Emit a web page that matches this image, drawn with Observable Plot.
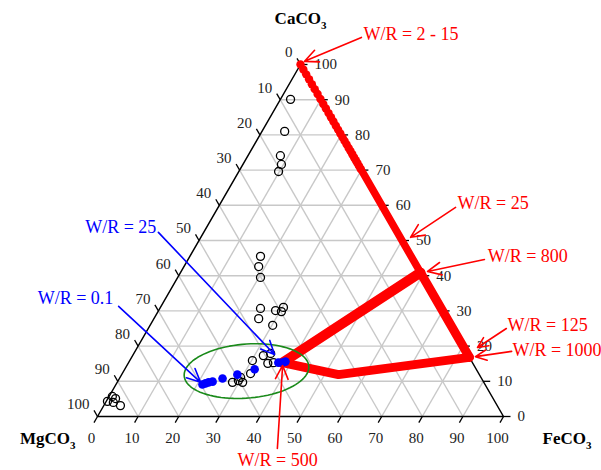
<!DOCTYPE html>
<html><head><meta charset="utf-8">
<script src="https://cdn.jsdelivr.net/npm/d3@7"></script>
<script src="https://cdn.jsdelivr.net/npm/@observablehq/plot@0.6"></script>
<style>body{margin:0;background:#fff}</style>
</head><body><div id="chart"></div>
<script>
// Ternary compositions (%): CaCO3 and FeCO3; MgCO3 = 100 - Ca - Fe
const sampleCa = [90.1, 81.0, 74.1, 71.6, 69.6, 45.5, 42.6, 39.5, 30.7, 27.8, 30.1, 29.8, 31.0, 25.9,
                  15.9, 17.3, 17.9, 15.1, 15.3, 12.2, 9.7, 10.2, 9.7, 11.1, 4.3, 5.7, 4.0, 3.1, 5.1];
const sampleFe = [2.5, 5.6, 8.0, 9.5, 9.8, 17.4, 18.4, 20.4, 24.8, 25.8, 28.8, 30.4, 30.3, 30.2,
                  30.2, 32.2, 33.7, 34.4, 35.7, 31.6, 28.4, 29.6, 30.9, 29.7, 0.3, 0.8, 1.9, 4.1, 1.9];
// Blue model path (low Fe fluid)
const blueCa = [9.1, 9.4, 9.7, 9.9, 10.8, 11.9, 13.4, 15.3, 15.3, 15.6];
const blueFe = [21.3, 21.9, 22.5, 23.4, 25.4, 28.5, 32.0, 36.9, 37.9, 38.5];
// Red model: dots on the MgCO3 = 0 edge (W/R = 2 - 15)
const redDotCa = [100, 98.6, 97.2, 95.8, 94.4, 93.0, 91.6, 90.2, 88.8, 87.5, 86.2, 85.0, 83.8, 82.6,
                  81.5, 80.4, 79.3, 78.3, 77.3, 76.3, 75.4, 74.5, 73.6, 72.8, 72.0, 71.2, 70.4];
// Red model paths
const redEdgeUpperCa = [70.4, 41.0], redEdgeUpperFe = [29.6, 59.0];
const redEdgeLowerCa = [41.0, 16.8], redEdgeLowerFe = [59.0, 83.2];
const redMixUpperCa = [15.3, 40.9], redMixUpperFe = [37.9, 59.1];
const redMixLowerCa = [15.3, 11.9, 16.8], redMixLowerFe = [37.9, 53.4, 83.2];
// Axis ticks
const tickValues = [0, 10, 20, 30, 40, 50, 60, 70, 80, 90, 100];
const gridValues = [10, 20, 30, 40, 50, 60, 70, 80, 90];
const vertexNames = ["CaCO3", "MgCO3", "FeCO3"];
// Annotations (diagram units: x across 0-100, y = CaCO3 %)
const redNoteText = ["W/R = 2 - 15", "W/R = 25", "W/R = 800", "W/R = 125", "W/R = 1000", "W/R = 500"];
const redNoteX = [65.5, 88.7, 96.1, 101.0, 102.2, 34.5];
const redNoteY = [108.5, 60.5, 45.5, 25.9, 18.8, -12.5];
const redArrowX1 = [65.0, 88.2, 95.3, 100.7, 102.0, 44.3];
const redArrowY1 = [107.7, 59.4, 44.6, 25.0, 18.5, -9.1];
const redArrowX2 = [51.0, 77.1, 81.3, 93.6, 93.1, 45.6];
const redArrowY2 = [100.9, 50.9, 41.2, 19.6, 17.0, 14.5];
const blueNoteText = ["W/R = 25", "W/R = 0.1"];
const blueNoteX = [14.5, 3.9];
const blueNoteY = [53.7, 33.5];
const blueArrowX1 = [15.0, 5.2];
const blueArrowY1 = [52.3, 31.3];
const blueArrowX2 = [43.6, 25.4];
const blueArrowY2 = [17.6, 9.7];
// Highlight ellipse (ternary centre)
const ellipseCa = 12.9, ellipseFe = 30.25;

// ---- build ----
const X0 = 97, X1 = 503, Y0 = 416, Y1 = 64;
const kx = (X1 - X0) / 100, ky = (Y0 - Y1) / 100;
const tx = (ca, fe) => fe + ca / 2;
const pts = (ca, fe) => ca.map((c, i) => ({x: tx(c, fe[i]), y: c}));

const samples = pts(sampleCa, sampleFe);
const blue = pts(blueCa, blueFe);
const redDots = pts(redDotCa, redDotCa.map(c => 100 - c));

const grid = [];
for (const v of gridValues) {
  grid.push({x1: tx(v, 0), y1: v, x2: tx(v, 100 - v), y2: v});            // CaCO3 const
  grid.push({x1: tx(0, v), y1: 0, x2: tx(100 - v, v), y2: 100 - v});      // FeCO3 const
  grid.push({x1: tx(100 - v, 0), y1: 100 - v, x2: tx(0, 100 - v), y2: 0}); // MgCO3 const
}
const tri = [{x: 0, y: 0}, {x: 100, y: 0}, {x: 50, y: 100}, {x: 0, y: 0}];
const L = 7;
const cx = L * 0.5 / kx, cy = L * 0.866 / ky;
const tickBottom = tickValues.map(v => ({x1: tx(0, v), y1: 0, x2: tx(0, v) - cx, y2: -cy, v}));
const tickRight = tickValues.map(v => ({x1: tx(v, 100 - v), y1: v, x2: tx(v, 100 - v) + L / kx, y2: v, v}));
const tickLeft = tickValues.map(v => ({x1: tx(100 - v, 0), y1: 100 - v, x2: tx(100 - v, 0) - cx, y2: 100 - v + cy, v}));

// ellipse in pixel space
const ex = tx(ellipseCa, ellipseFe), ey = ellipseCa;
const erx = 62.5, ery = 27, rot = -4.5 * Math.PI / 180;
const ellipse = d3.range(0, 361, 4).map(a => {
  const t = a * Math.PI / 180;
  const px = erx * Math.cos(t) * Math.cos(rot) - ery * Math.sin(t) * Math.sin(rot);
  const py = erx * Math.cos(t) * Math.sin(rot) + ery * Math.sin(t) * Math.cos(rot);
  return {x: ex + px / kx, y: ey - py / ky};
});

const redNotes = redNoteText.map((t, i) => ({t, x: redNoteX[i], y: redNoteY[i], x1: redArrowX1[i], y1: redArrowY1[i], x2: redArrowX2[i], y2: redArrowY2[i]}));
const blueNotes = blueNoteText.map((t, i) => ({t, x: blueNoteX[i], y: blueNoteY[i], x1: blueArrowX1[i], y1: blueArrowY1[i], x2: blueArrowX2[i], y2: blueArrowY2[i]}));

const RED = "#ff0000", BLUE = "#0000ff";
const serif = "Liberation Serif, Times New Roman, serif";

const redLine = (ca, fe, w) => Plot.line(pts(ca, fe), {x: "x", y: "y", stroke: RED, strokeWidth: w, strokeLinecap: "round", strokeLinejoin: "round"});

const svg = Plot.plot({
  width: 601, height: 470,
  margin: 0,
  x: {domain: [0, 100], range: [X0, X1], axis: null},
  y: {domain: [0, 100], range: [Y0, Y1], axis: null},
  style: {fontFamily: serif, background: "#fff", overflow: "visible"},
  marks: [
    Plot.link(grid, {x1: "x1", y1: "y1", x2: "x2", y2: "y2", stroke: "#c8c8c8", strokeWidth: 1.4}),
    Plot.line(tri, {x: "x", y: "y", stroke: "#000", strokeWidth: 1.5}),
    Plot.link(tickBottom, {x1: "x1", y1: "y1", x2: "x2", y2: "y2", stroke: "#000", strokeWidth: 1.3}),
    Plot.link(tickRight, {x1: "x1", y1: "y1", x2: "x2", y2: "y2", stroke: "#000", strokeWidth: 1.3}),
    Plot.link(tickLeft, {x1: "x1", y1: "y1", x2: "x2", y2: "y2", stroke: "#000", strokeWidth: 1.3}),
    Plot.text(tickBottom, {x: "x1", y: "y1", text: d => String(d.v), dx: -6, dy: 22, fontSize: 15, fill: "#222", textAnchor: "middle"}),
    Plot.text(tickRight, {x: "x1", y: "y1", text: d => String(d.v), dx: 14, dy: 0, fontSize: 15, fill: "#222", textAnchor: "start"}),
    Plot.text(tickLeft, {x: "x1", y: "y1", text: d => String(d.v), dx: -8, dy: -12, fontSize: 15, fill: "#222", textAnchor: "end"}),
    // vertex titles
    Plot.text([{x: 50, y: 100, t: vertexNames[0]}], {x: "x", y: "y", text: "t", dy: -46, fontSize: 17, fontWeight: "bold", fill: "#000", textAnchor: "middle"}),
    Plot.text([{x: 0, y: 0, t: vertexNames[1]}], {x: "x", y: "y", text: "t", dx: -22, dy: 22, fontSize: 17, fontWeight: "bold", fill: "#000", textAnchor: "end"}),
    Plot.text([{x: 100, y: 0, t: vertexNames[2]}], {x: "x", y: "y", text: "t", dx: 39, dy: 22, fontSize: 17, fontWeight: "bold", fill: "#000", textAnchor: "start"}),
    // red model
    redLine(redEdgeUpperCa, redEdgeUpperFe, 7.5),
    redLine(redEdgeLowerCa, redEdgeLowerFe, 9),
    redLine(redMixUpperCa, redMixUpperFe, 10),
    redLine(redMixLowerCa, redMixLowerFe, 9),
    Plot.dot(redDots, {x: "x", y: "y", r: 4.2, fill: RED, stroke: "none"}),
    // samples
    Plot.dot(samples, {x: "x", y: "y", r: 4, fill: "none", stroke: "#000", strokeWidth: 1.3}),
    // blue model
    Plot.dot(blue, {x: "x", y: "y", r: 4.3, fill: BLUE, stroke: "none"}),
    // ellipse
    Plot.line(ellipse, {x: "x", y: "y", stroke: "#1a8a1a", strokeWidth: 1.6}),
    // annotations
    Plot.arrow(redNotes, {x1: "x1", y1: "y1", x2: "x2", y2: "y2", stroke: RED, strokeWidth: 1.6, headLength: 14, headAngle: 50}),
    Plot.arrow(blueNotes, {x1: "x1", y1: "y1", x2: "x2", y2: "y2", stroke: BLUE, strokeWidth: 1.6, headLength: 14, headAngle: 50}),
    Plot.text(redNotes, {x: "x", y: "y", text: "t", fill: RED, fontSize: 18, textAnchor: "start"}),
    Plot.text(blueNotes, {x: "x", y: "y", text: "t", fill: BLUE, fontSize: 18, textAnchor: "end"})
  ]
});

// subscripts for chemical formulas
const NS = "http://www.w3.org/2000/svg";
svg.querySelectorAll("text").forEach(t => {
  if (/^(Ca|Mg|Fe)CO3$/.test(t.textContent)) {
    const base = t.textContent.slice(0, -1);
    t.textContent = base;
    const s = document.createElementNS(NS, "tspan");
    s.setAttribute("font-size", "11");
    s.setAttribute("dy", "5");
    s.textContent = "3";
    t.appendChild(s);
  }
});
document.getElementById("chart").appendChild(svg);
</script>
</body></html>
